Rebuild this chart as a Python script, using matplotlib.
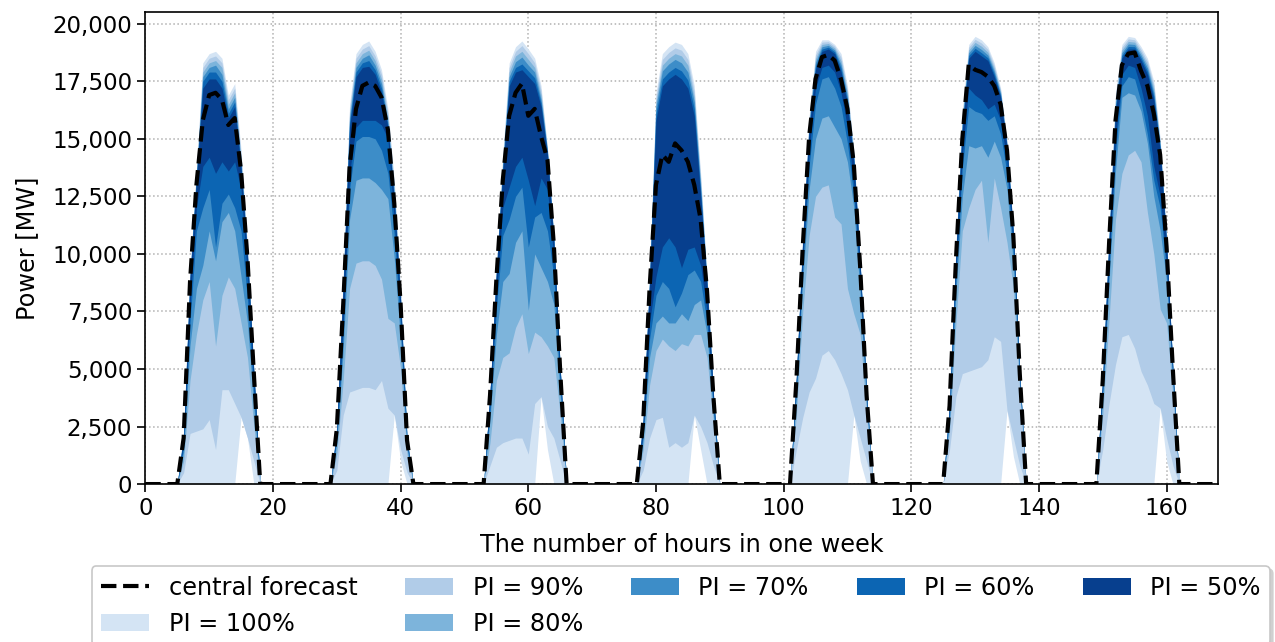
import numpy as np
import matplotlib
matplotlib.use("Agg")
import matplotlib.pyplot as plt
from matplotlib.ticker import StrMethodFormatter

# hourly values for hours 6..17 of each of the 7 days (MW), zero at night
central = [
    [2000, 8800, 13000, 15800, 16900, 17000, 16700, 15600, 15900, 13600, 9800, 4800],
    [2400, 7800, 13800, 16300, 17300, 17450, 17300, 16800, 15400, 12200, 7800, 1900],
    [3850, 8900, 13200, 16000, 17000, 17400, 16000, 16300, 15100, 14100, 10400, 4900],
    [2700, 8500, 13000, 14300, 14000, 14800, 14500, 14000, 13000, 11500, 8400, 3800],
    [4500, 10300, 15100, 17600, 18550, 18650, 18400, 17580, 16300, 13900, 9400, 3850],
    [3400, 9750, 15000, 18230, 18000, 17900, 17700, 17300, 16500, 14500, 10750, 4800],
    [4500, 10500, 15800, 18200, 18700, 18750, 17950, 17300, 16100, 14300, 10300, 4900],
]

upper_100 = [
    [2300, 9300, 13700, 18300, 18700, 18800, 18500, 16900, 17400, 14500, 10300, 5000],
    [2600, 9000, 16500, 18700, 19100, 19250, 18800, 18000, 16300, 13200, 8300, 2000],
    [4000, 9400, 14300, 18300, 19000, 19250, 18900, 18500, 17300, 14600, 10800, 5100],
    [2900, 9000, 17000, 18700, 19000, 19200, 19100, 18700, 17300, 13500, 9000, 4000],
    [4700, 10800, 16000, 18800, 19300, 19300, 19100, 18700, 17300, 14500, 9700, 4000],
    [3600, 10300, 16200, 19100, 19450, 19300, 19000, 18300, 17200, 14900, 11000, 4900],
    [4700, 11000, 17000, 19100, 19450, 19400, 19000, 18500, 17500, 15000, 10700, 5000],
]
upper_90 = [
    [2250, 9200, 13600, 18100, 18500, 18600, 18300, 16700, 17200, 14300, 10200, 4950],
    [2550, 8900, 16300, 18500, 18900, 19050, 18600, 17800, 16100, 13000, 8200, 2000],
    [3980, 9350, 14150, 18100, 18800, 19050, 18700, 18300, 17100, 14550, 10750, 5080],
    [2870, 8950, 16800, 18450, 18750, 18950, 18850, 18450, 17050, 13300, 8920, 3970],
    [4680, 10740, 15880, 18640, 19200, 19220, 19020, 18540, 17140, 14400, 9660, 3980],
    [3570, 10220, 16040, 18980, 19320, 19160, 18880, 18180, 17120, 14840, 10960, 4880],
    [4670, 10920, 16840, 18980, 19340, 19300, 18880, 18360, 17340, 14900, 10640, 4980],
]
upper_80 = [
    [2200, 9100, 13500, 17900, 18300, 18400, 18100, 16500, 17000, 14100, 10100, 4900],
    [2500, 8800, 16100, 18300, 18700, 18850, 18400, 17600, 15900, 12800, 8100, 1950],
    [3960, 9300, 14000, 17900, 18600, 18800, 18450, 18100, 16900, 14500, 10700, 5050],
    [2840, 8900, 16600, 18200, 18500, 18700, 18600, 18200, 16800, 13100, 8840, 3940],
    [4660, 10680, 15760, 18480, 19100, 19140, 18940, 18380, 16980, 14300, 9620, 3960],
    [3540, 10140, 15880, 18860, 19190, 19020, 18760, 18060, 17040, 14780, 10920, 4860],
    [4640, 10840, 16680, 18860, 19230, 19200, 18760, 18220, 17180, 14800, 10580, 4960],
]
upper_70 = [
    [2150, 9000, 13400, 17700, 18100, 18200, 17800, 16300, 16800, 13900, 10000, 4850],
    [2450, 8700, 15900, 18100, 18500, 18650, 18200, 17400, 15700, 12600, 8000, 1950],
    [3940, 9250, 13850, 17700, 18350, 18550, 18200, 17900, 16700, 14450, 10650, 5020],
    [2810, 8850, 16400, 17950, 18250, 18450, 18300, 17900, 16600, 12900, 8760, 3910],
    [4640, 10620, 15640, 18320, 19000, 19060, 18860, 18220, 16820, 14200, 9580, 3940],
    [3510, 10060, 15720, 18740, 19060, 18880, 18640, 17940, 16960, 14720, 10880, 4840],
    [4610, 10760, 16520, 18740, 19120, 19100, 18640, 18080, 17020, 14700, 10520, 4940],
]
upper_60 = [
    [2100, 8950, 13300, 17500, 17900, 17900, 17500, 16100, 16600, 13800, 9900, 4800],
    [2400, 8600, 15700, 17900, 18300, 18400, 18000, 17200, 15600, 12400, 7900, 1900],
    [3920, 9200, 13700, 17500, 18100, 18250, 17950, 17650, 16550, 14400, 10600, 5000],
    [2780, 8800, 16100, 17600, 17900, 18100, 17950, 17550, 16300, 12700, 8680, 3880],
    [4620, 10560, 15520, 18160, 18900, 18980, 18780, 18060, 16660, 14100, 9540, 3920],
    [3480, 9980, 15560, 18620, 18930, 18740, 18520, 17820, 16880, 14660, 10840, 4820],
    [4580, 10680, 16360, 18620, 19010, 19000, 18520, 17940, 16860, 14600, 10460, 4920],
]
upper_50 = [
    [2050, 8900, 13200, 17200, 17600, 17600, 17200, 15900, 16400, 13700, 9850, 4800],
    [2400, 8500, 15500, 17700, 18100, 18150, 17800, 17000, 15500, 12300, 7850, 1900],
    [3900, 9100, 13600, 17300, 17900, 18000, 17700, 17400, 16400, 14300, 10500, 4950],
    [2750, 8700, 15800, 17300, 17600, 17800, 17600, 17200, 16000, 12500, 8600, 3850],
    [4600, 10500, 15400, 18000, 18800, 18900, 18700, 17900, 16500, 14000, 9500, 3900],
    [3450, 9900, 15400, 18500, 18800, 18600, 18400, 17700, 16800, 14600, 10800, 4800],
    [4550, 10600, 16200, 18500, 18900, 18900, 18400, 17800, 16700, 14500, 10400, 4900],
]

lower_50 = [
    [1800, 7800, 12000, 13800, 14200, 13500, 14000, 13600, 14000, 12800, 9000, 4300],
    [2200, 7000, 13500, 15500, 15800, 15800, 15800, 15600, 15000, 11500, 7300, 1800],
    [3500, 8200, 12000, 12900, 13800, 14200, 13200, 12100, 13300, 12800, 9800, 4600],
    [2300, 7000, 9000, 10300, 10700, 10300, 9400, 10200, 10300, 9500, 7500, 3500],
    [4300, 9800, 14500, 17200, 18100, 18200, 17900, 17000, 15500, 13000, 9000, 3700],
    [3200, 9300, 14300, 17200, 16900, 16700, 16300, 16500, 15800, 14000, 10300, 4600],
    [4200, 9800, 15000, 17800, 18200, 18100, 17200, 16000, 13800, 12500, 9500, 4600],
]
lower_60 = [
    [1600, 7000, 11000, 12000, 12800, 10300, 12200, 12600, 12000, 11000, 8000, 3800],
    [2000, 6500, 12800, 14900, 15100, 15100, 15000, 14500, 13500, 10800, 6800, 1700],
    [3200, 7600, 10800, 11500, 12500, 12900, 10300, 11600, 11800, 11000, 9000, 4300],
    [2100, 6300, 8200, 8800, 8500, 7700, 8300, 9100, 9300, 8800, 7000, 3300],
    [4100, 9400, 13800, 16500, 17600, 17700, 17200, 16400, 14800, 12500, 8700, 3600],
    [3000, 8900, 13700, 16400, 16200, 16100, 15800, 16000, 15200, 13500, 10000, 4500],
    [4000, 9400, 14400, 17300, 17700, 17600, 16600, 15200, 13200, 12000, 9200, 4500],
]
lower_70 = [
    [1400, 6000, 8500, 9500, 11000, 9700, 11400, 11800, 11000, 9000, 7000, 3300],
    [1800, 5800, 11500, 13200, 13300, 13300, 13100, 12800, 12400, 9800, 6200, 1500],
    [2800, 6500, 8800, 9150, 10500, 11000, 7550, 10000, 9400, 8800, 7800, 3800],
    [1900, 5500, 7000, 7300, 7000, 7000, 7400, 7100, 7800, 8000, 6500, 3000],
    [3800, 8800, 12800, 15000, 15900, 16000, 15500, 15000, 14000, 12000, 8200, 3400],
    [2800, 8300, 12500, 14700, 14600, 14700, 14200, 14900, 14200, 12800, 9500, 4300],
    [3700, 8800, 13600, 16800, 17000, 16900, 16200, 14800, 12500, 11000, 8800, 4300],
]
lower_80 = [
    [1000, 4500, 6500, 8000, 8800, 6000, 8200, 9000, 8500, 7000, 5500, 2500],
    [1300, 4500, 8500, 9600, 9700, 9700, 9500, 8900, 7200, 7000, 5000, 1300],
    [1800, 4500, 5500, 5700, 6800, 7400, 5670, 6600, 6400, 6000, 5500, 3000],
    [1500, 4300, 5800, 6300, 6000, 5800, 6100, 6000, 6500, 6500, 5500, 2700],
    [3000, 7500, 10800, 12500, 12900, 13000, 11600, 11300, 8500, 7400, 6500, 3000],
    [2300, 7000, 11000, 12000, 12800, 13200, 10500, 13300, 12000, 10500, 8500, 4000],
    [3000, 7200, 11500, 13500, 14300, 14500, 14000, 11800, 10000, 7600, 7000, 3800],
]
lower_90 = [
    [500, 2200, 2300, 2400, 2800, 1500, 4100, 4100, 3500, 2900, 2000, 1000],
    [600, 3000, 4000, 4100, 4200, 4200, 4100, 4500, 3300, 3000, 1500, 500],
    [800, 1600, 1800, 1900, 2000, 2000, 1300, 3500, 3800, 2500, 2000, 1000],
    [600, 2000, 2800, 2900, 1600, 1800, 1600, 1800, 3000, 2500, 1800, 800],
    [1500, 2900, 4000, 4600, 5600, 5800, 5400, 4800, 4100, 3000, 2000, 1000],
    [1500, 3800, 4800, 4900, 5000, 5100, 5400, 6400, 6200, 3200, 2000, 800],
    [1500, 3500, 5200, 6400, 6500, 5900, 4900, 4300, 3500, 3300, 2000, 800],
]
lower_100 = [
    [0, 0, 0, 0, 0, 0, 0, 0, 0, 2900, 2000, 0],
    [0, 0, 0, 0, 0, 0, 0, 0, 0, 3000, 1000, 0],
    [0, 0, 0, 0, 0, 0, 0, 0, 3800, 1500, 0, 0],
    [0, 0, 0, 0, 0, 0, 0, 0, 3000, 1500, 0, 0],
    [0, 0, 0, 0, 0, 0, 0, 0, 0, 3000, 1000, 0],
    [0, 0, 0, 0, 0, 0, 0, 0, 0, 3200, 1200, 0],
    [0, 0, 0, 0, 0, 0, 0, 0, 0, 3300, 1000, 0],
]

levels = ["100", "90", "80", "70", "60", "50"]
colors = ["#d4e4f4", "#b1cce8", "#7db4db", "#3d8dc8", "#0c65b3", "#073f8e"]
first_hour = 6
hours = np.arange(169)


def week(day_values):
    out = np.zeros(len(hours))
    for d, vals in enumerate(day_values):
        start = 24 * d + first_hour
        out[start:start + len(vals)] = vals
    return out


lowers = [lower_100, lower_90, lower_80, lower_70, lower_60, lower_50]
uppers = [upper_100, upper_90, upper_80, upper_70, upper_60, upper_50]

fig, ax = plt.subplots(figsize=(12.75, 6.42), dpi=100)
fig.subplots_adjust(left=0.114, right=0.955, top=0.981, bottom=0.246)

for lvl, col, lo, hi in zip(levels, colors, lowers, uppers):
    ax.fill_between(hours, week(lo), week(hi), color=col, linewidth=0,
                    label=f"PI = {lvl}%")

ax.plot(hours, week(central), color="black", linestyle="--", linewidth=3,
        label="central forecast")

ax.set_xlim(0, 168)
ax.set_ylim(0, 20500)
ax.set_xticks(np.arange(0, 161, 20))
ax.set_yticks(np.arange(0, 20001, 2500))
ax.yaxis.set_major_formatter(StrMethodFormatter("{x:,.0f}"))
ax.grid(True, linestyle=":", color="#b0b0b0", linewidth=1.1)
ax.set_axisbelow(True)
ax.tick_params(labelsize=16.5, length=6, width=1.2)
for s in ax.spines.values():
    s.set_linewidth(1.2)
ax.set_xlabel("The number of hours in one week", fontsize=17.3, labelpad=9)
ax.set_ylabel("Power [MW]", fontsize=17.3, labelpad=9)

handles, labels = ax.get_legend_handles_labels()
order = [6, 0, 1, 2, 3, 4, 5]
leg = fig.legend([handles[i] for i in order], [labels[i] for i in order],
                 loc="upper center", bbox_to_anchor=(0.534, 0.118), ncol=5,
                 fontsize=17.3, frameon=True, edgecolor="#c8c8c8",
                 shadow={"color": "#d0d0d0", "alpha": 1.0},
                 handlelength=2.0, columnspacing=2.0, borderaxespad=0.0)
leg.get_frame().set_linewidth(1.2)

fig.savefig("out.png", dpi=100)
